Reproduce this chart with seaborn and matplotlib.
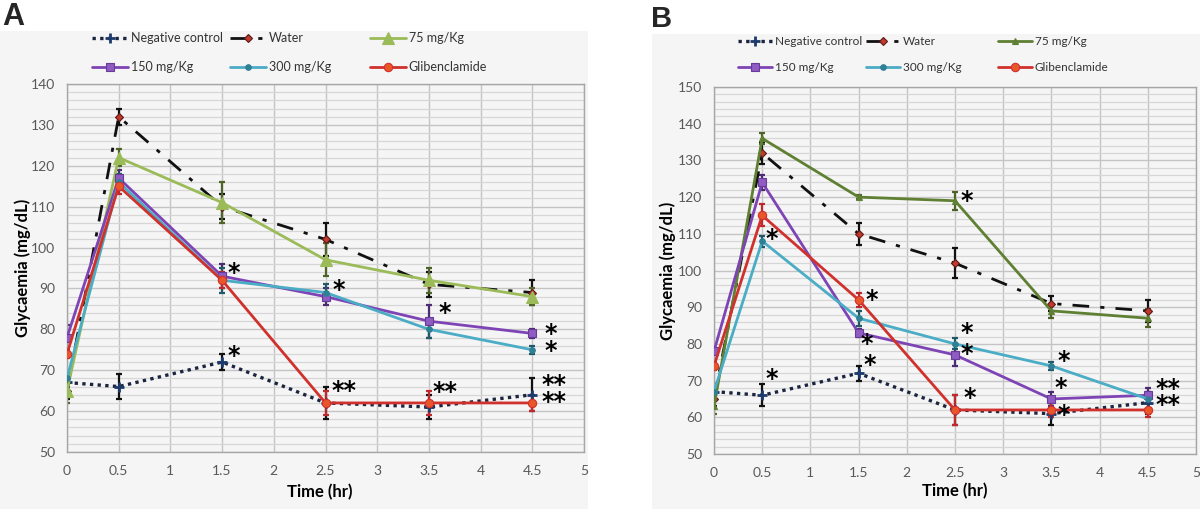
import numpy as np
import pandas as pd
import matplotlib
matplotlib.use("Agg")
import matplotlib.pyplot as plt
from matplotlib.patches import Rectangle
from matplotlib.ticker import MultipleLocator, FuncFormatter
import seaborn as sns

# sampling times (hr)
time_hr = [0, 0.5, 1.5, 2.5, 3.5, 4.5]

# panel A - glycaemia (mg/dL) and error bars
neg_a = [67, 66, 72, 62, 61, 64]
neg_a_err = [2, 3, 2, 4, 3, 4]
water_a = [65, 132, 110, 102, 91, 89]
water_a_err = [2, 2, 3, 4, 3, 3]
d75_a = [65, 122, 111, 97, 92, 88]
d75_a_err = [3, 2, 5, 4, 3, 2]
d150_a = [78, 117, 93, 88, 82, 79]
d150_a_err = [3, 2, 3, 2, 4, 1]
d300_a = [68, 116, 92, 89, 80, 75]
d300_a_err = [2, 2, 3, 2, 2, 1]
glib_a = [74, 115, 92, 62, 62, 62]
glib_a_err = [1, 2, 2, 3, 3, 2]

# panel B
neg_b = [67, 66, 72, 62, 61, 64]
neg_b_err = [2, 3, 2, 4, 3, 3]
water_b = [65, 132, 110, 102, 91, 89]
water_b_err = [2, 3, 3, 4, 2, 3]
d75_b = [63, 136, 120, 119, 89, 87]
d75_b_err = [2, 1.5, 0.5, 2.5, 2, 2.5]
d150_b = [78, 124, 83, 77, 65, 66]
d150_b_err = [1, 2, 1, 3, 2, 2]
d300_b = [67, 108, 87, 80, 74, 65]
d300_b_err = [1.5, 1.5, 2, 1.5, 1, 1]
glib_b = [74, 115, 92, 62, 62, 62]
glib_b_err = [1, 3, 2, 4, 2, 2]

# significance marks (stacked pairs share one text)
stars_a_x = [1.61, 1.61, 2.63, 3.65, 4.68, 2.68, 3.66, 4.71]
stars_a_y = [95.4, 75.1, 91.2, 85.7, 78.45, 66.6, 66.4, 66.0]
stars_a_txt = ["*", "*", "*", "*", "*\n*", "**", "**", "**\n**"]

stars_b_x = [0.6, 0.6, 1.64, 1.58, 1.62, 2.62, 2.65, 2.62, 3.63, 3.6, 3.63, 4.71]
stars_b_y = [72.3, 110.5, 93.9, 82, 76.2, 82.1, 67.2, 120.8, 77.3, 69.9, 62.4, 67.45]
stars_b_txt = ["*", "*", "*", "*", "*", "*\n*", "*", "*", "*", "*", "*", "**\n**"]

labels = ["Negative control", "Water", "75 mg/Kg", "150 mg/Kg", "300 mg/Kg", "Glibenclamide"]

sns.set_style("whitegrid")
plt.rcParams["font.family"] = ["Lato", "DejaVu Sans"]

W, H = 1200, 509
fig = plt.figure(figsize=(12, 5.09), dpi=100)

# light grey chart areas
fig.patches.append(Rectangle((0 / W, 0), 588 / W, 1 - 31 / H, transform=fig.transFigure,
                             facecolor="#f5f5f5", edgecolor="none", zorder=-5))
fig.patches.append(Rectangle((652 / W, 0), 548 / W, 1 - 34 / H, transform=fig.transFigure,
                             facecolor="#f5f5f5", edgecolor="none", zorder=-5))

ax_a = fig.add_axes([67 / W, 1 - 452 / H, 517 / W, 368 / H])
ax_b = fig.add_axes([714 / W, 1 - 454 / H, 482 / W, 367 / H])


def styles(green, green_ms):
    return [
        dict(color="#1c2540", ls=(0, (1, 1.3)), lw=2.4, marker="+", ms=7, mew=2,
             mfc="#1c2540", mec="#1c3a6b", ecolor="#111111"),
        dict(color="#111111", ls=(0, (6, 4, 1.5, 4)), lw=2.0, marker="D", ms=4, mew=0.8,
             mfc="#c0392b", mec="#5a1a1a", ecolor="#111111"),
        dict(color=green, ls="-", lw=2.0, marker="^", ms=green_ms, mew=0.8,
             mfc=green, mec=green, ecolor="#4f6228"),
        dict(color="#7e44b5", ls="-", lw=2.0, marker="s", ms=6, mew=0.8,
             mfc="#8e5cc2", mec="#6a3a9a", ecolor="#4b2c72"),
        dict(color="#4aacc5", ls="-", lw=2.0, marker="o", ms=4, mew=0.8,
             mfc="#2f7f95", mec="#2f7f95", ecolor="#215968"),
        dict(color="#d0312d", ls="-", lw=2.0, marker="o", ms=6, mew=0.8,
             mfc="#e8562a", mec="#d0312d", ecolor="#c0282d"),
    ]


def draw_panel(ax, series, errs, sty, ymax, sx, sy, stxt):
    ax.set_facecolor("#f5f5f5")
    handles = []
    for lab, vals, err, st in zip(labels, series, errs, sty):
        df = pd.DataFrame({"time": time_hr, "glyc": vals})
        sns.lineplot(data=df, x="time", y="glyc", ax=ax, color=st["color"], linestyle=st["ls"],
                     linewidth=st["lw"], marker=st["marker"], markersize=st["ms"],
                     markeredgewidth=st["mew"], markerfacecolor=st["mfc"],
                     markeredgecolor=st["mec"], zorder=3)
        handles.append(ax.lines[-1])
        ax.errorbar(time_hr, vals, yerr=err, fmt="none", ecolor=st["ecolor"], elinewidth=1.6,
                    capsize=2.5, capthick=1.6, zorder=2.5)

    for x, y, t in zip(sx, sy, stxt):
        # B's 2.5 h pair sits further apart than the 4.5 h pairs
        spacing = 0.85 if ("\n" in t and abs(x - 2.62) < 0.01) else 0.6
        ax.annotate(t, (x, y), xytext=(0, -5), textcoords="offset points", ha="center",
                    va="center", fontsize=17, fontweight="bold", family="DejaVu Sans",
                    color="black", zorder=5, linespacing=spacing)

    ax.set_xlim(0, 5)
    ax.set_ylim(50, ymax)
    ax.xaxis.set_major_locator(MultipleLocator(0.5))
    ax.xaxis.set_major_formatter(FuncFormatter(lambda v, p: f"{v:g}"))
    ax.yaxis.set_major_locator(MultipleLocator(10))
    ax.yaxis.set_minor_locator(MultipleLocator(2))
    ax.grid(which="major", axis="both", color="#c4c4c4", lw=1.0)
    ax.grid(which="minor", axis="y", color="#d6d6d6", lw=0.9)
    ax.set_axisbelow(True)
    for s in ax.spines.values():
        s.set_color("#a6a6a6")
        s.set_linewidth(1.0)
    ax.tick_params(axis="both", which="major", direction="out", length=3.5, width=1,
                   color="#a6a6a6", labelcolor="#595959", labelsize=10)
    ax.tick_params(axis="y", which="major", pad=5)
    ax.tick_params(axis="x", which="major", pad=6)
    ax.tick_params(which="minor", length=0)
    ax.set_xlabel("Time (hr)", fontsize=12, fontweight="bold", color="black")
    ax.set_ylabel("Glycaemia (mg/dL)", fontsize=12, fontweight="bold", color="black")
    if ax.get_legend() is not None:
        ax.get_legend().remove()
    return handles


h_a = draw_panel(ax_a, [neg_a, water_a, d75_a, d150_a, d300_a, glib_a],
                 [neg_a_err, water_a_err, d75_a_err, d150_a_err, d300_a_err, glib_a_err],
                 styles("#9bbb59", 8), 140, stars_a_x, stars_a_y, stars_a_txt)
h_b = draw_panel(ax_b, [neg_b, water_b, d75_b, d150_b, d300_b, glib_b],
                 [neg_b_err, water_b_err, d75_b_err, d150_b_err, d300_b_err, glib_b_err],
                 styles("#5f7f32", 5), 150, stars_b_x, stars_b_y, stars_b_txt)

ax_a.xaxis.set_label_coords((320 - 67) / 517, (452 - 484) / 368)
ax_a.yaxis.set_label_coords((31 - 67) / 517, 0.5)
ax_b.xaxis.set_label_coords((955 - 714) / 482, (454 - 483) / 367)
ax_b.yaxis.set_label_coords((676 - 714) / 482, 0.5)


def add_legends(handles, xs, y_top, spacing, size):
    for col, x in enumerate(xs):
        hs = [handles[col], handles[col + 3]]
        ls = [labels[col], labels[col + 3]]
        leg = fig.legend(hs, ls, loc="upper left", bbox_to_anchor=(x / W, 1 - y_top / H),
                         frameon=False, fontsize=size, handlelength=2.9, handletextpad=0.2,
                         borderpad=0, borderaxespad=0, labelspacing=spacing)
        for t in leg.get_texts():
            t.set_color("#333333")


add_legends(h_a, [92, 230, 370], 32, 1.35, 9)
add_legends(h_b, [738, 866, 998], 36, 1.3, 8.5)

fig.text(2 / W, 1 - 17 / H, "A", fontsize=22, fontweight="bold", family="Liberation Sans",
         va="center", ha="left")
fig.text(651 / W, 1 - 19 / H, "B", fontsize=21, fontweight="bold", family="Liberation Sans",
         va="center", ha="left")

fig.savefig("out.png", dpi=100)
